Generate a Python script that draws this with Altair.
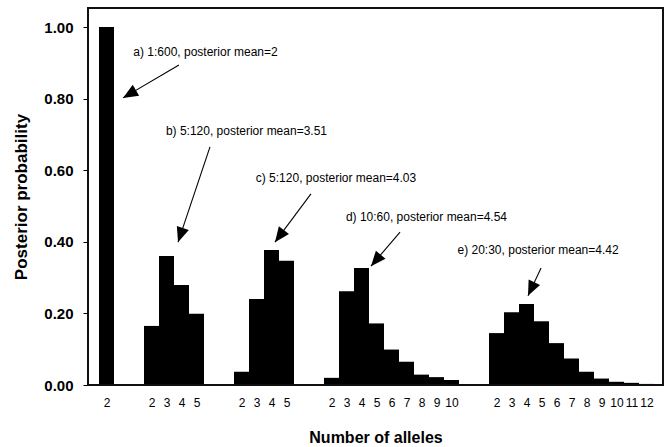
import math
import altair as alt
import pandas as pd

# ---- data ----
alleles_a = [2]
prob_a = [1.00]
alleles_b = [2, 3, 4, 5]
prob_b = [0.165, 0.360, 0.279, 0.199]
alleles_c = [2, 3, 4, 5]
prob_c = [0.037, 0.240, 0.377, 0.347]
alleles_d = [2, 3, 4, 5, 6, 7, 8, 9, 10]
prob_d = [0.020, 0.262, 0.327, 0.172, 0.099, 0.065, 0.029, 0.022, 0.014]
alleles_e = [2, 3, 4, 5, 6, 7, 8, 9, 10, 11, 12]
prob_e = [0.145, 0.203, 0.226, 0.178, 0.117, 0.074, 0.037, 0.018, 0.009, 0.006, 0.003]

ann_text = [
    "a) 1:600, posterior mean=2",
    "b) 5:120, posterior mean=3.51",
    "c) 5:120, posterior mean=4.03",
    "d) 10:60, posterior mean=4.54",
    "e) 20:30, posterior mean=4.42",
]
ann_text_x = [7.1, 9.83, 15.8, 21.83, 29.27]
ann_text_y = [0.930, 0.710, 0.578, 0.469, 0.377]
arrow_x0 = [5.33, 7.40, 14.13, 20.07, 29.47]
arrow_y0 = [0.894, 0.665, 0.534, 0.427, 0.327]
arrow_x1 = [1.60, 5.27, 11.73, 18.13, 28.60]
arrow_y1 = [0.802, 0.399, 0.399, 0.332, 0.249]

GAP = 2
FONT = "Liberation Sans, Arial, Helvetica, sans-serif"

# ---- build tables ----
groups = [(alleles_a, prob_a), (alleles_b, prob_b), (alleles_c, prob_c),
          (alleles_d, prob_d), (alleles_e, prob_e)]
rows = []
labels = []
slot = 0
for gi, (al, pr) in enumerate(groups):
    if gi > 0:
        for _ in range(GAP):
            labels.append("")
            slot += 1
    for a, p in zip(al, pr):
        rows.append({"slot": slot, "slot_end": slot + 1, "center": slot + 0.5,
                     "allele": a, "prob": p})
        labels.append(str(a))
        slot += 1
n_slots = slot
bars = pd.DataFrame(rows)

X_PX = 15.0   # pixels per slot (styling)
Y_PX = 358.0  # pixels per unit probability (styling)
angles = []
for x0, y0, x1, y1 in zip(arrow_x0, arrow_y0, arrow_x1, arrow_y1):
    dx = (x1 - x0) * X_PX
    dy = -(y1 - y0) * Y_PX
    angles.append(math.degrees(math.atan2(dx, -dy)) % 360)
arrows = pd.DataFrame({"x0": arrow_x0, "y0": arrow_y0, "x1": arrow_x1,
                       "y1": arrow_y1, "angle": angles})
texts = pd.DataFrame({"label": ann_text, "tx": ann_text_x, "ty": ann_text_y})

label_expr = "[" + ",".join("'" + s + "'" for s in labels) + "][floor(datum.value)]"

x_scale = alt.Scale(domain=[-11 / 15, n_slots + 9 / 15], nice=False, zero=False)
y_scale = alt.Scale(domain=[0, 377 / 358], nice=False, zero=False)

x_axis = alt.Axis(values=[r["center"] for r in rows], labelExpr=label_expr,
                  ticks=False, domain=False, grid=False, labelOverlap=False,
                  labelFlush=False, labelPadding=12, labelFontSize=12,
                  labelFont=FONT, labelColor="black",
                  title="Number of alleles", titleFont=FONT, titleFontSize=16,
                  titleFontWeight="bold", titleColor="black", titlePadding=21)
y_axis = alt.Axis(values=[0, 0.2, 0.4, 0.6, 0.8, 1.0], format=".2f",
                  ticks=True, tickSize=5, tickColor="black", domain=False,
                  grid=False, labelPadding=10, labelFontSize=15,
                  labelFontWeight="bold", labelFont=FONT, labelColor="black",
                  title="Posterior probability", titleFont=FONT,
                  titleFontSize=17, titleFontWeight="bold", titleColor="black",
                  titlePadding=13)

bar_layer = alt.Chart(bars).mark_bar(color="black").encode(
    x=alt.X("slot:Q", scale=x_scale, axis=x_axis),
    x2="slot_end:Q",
    y=alt.Y("prob:Q", scale=y_scale, axis=y_axis),
    y2=alt.datum(0),
)

rule_layer = alt.Chart(arrows).mark_rule(color="black", strokeWidth=1.1).encode(
    x=alt.X("x0:Q", scale=x_scale, axis=x_axis),
    y=alt.Y("y0:Q", scale=y_scale, axis=y_axis),
    x2="x1:Q",
    y2="y1:Q",
)

head_layer = alt.Chart(arrows).mark_point(
    shape="M0,0 L0.42,1 L-0.42,1 Z", filled=True, color="black",
    size=900, opacity=1,
).encode(
    x=alt.X("x1:Q", scale=x_scale, axis=x_axis),
    y=alt.Y("y1:Q", scale=y_scale, axis=y_axis),
    angle=alt.Angle("angle:Q", scale=None),
)

text_layer = alt.Chart(texts).mark_text(
    font=FONT, fontSize=12, color="black", align="center", baseline="middle",
).encode(
    x=alt.X("tx:Q", scale=x_scale, axis=x_axis),
    y=alt.Y("ty:Q", scale=y_scale, axis=y_axis),
    text="label:N",
)

frame_layer = alt.Chart(bars).mark_rect(
    fill=None, filled=False, stroke="#111", strokeWidth=1.5,
).encode(
    x=alt.value(0), x2=alt.value("width"),
    y=alt.value(0), y2=alt.value("height"),
)

chart = alt.layer(bar_layer, rule_layer, head_layer, text_layer, frame_layer).properties(
    width=575, height=377,
    autosize=alt.AutoSizeParams(type="none"),
    padding={"left": 88, "top": 8, "right": 9, "bottom": 62},
    background="white",
).configure_view(stroke="#111", strokeWidth=1.5)

chart.save("out.html", embed_options={"renderer": "svg", "actions": False})
